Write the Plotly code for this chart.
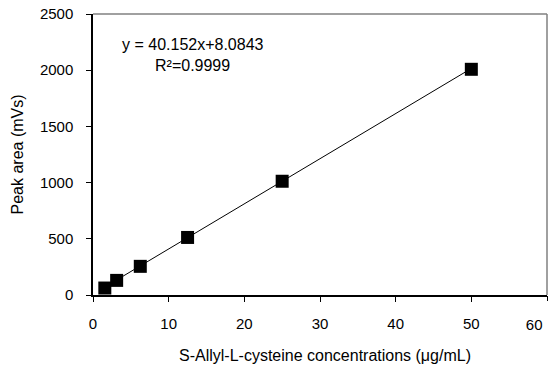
import plotly.graph_objects as go

# Data
conc = [1.5625, 3.125, 6.25, 12.5, 25, 50]
peak_area = [62, 130, 255, 512, 1012, 2008]
slope = 40.152
intercept = 8.0843
eq_text = "y = 40.152x+8.0843"
r2_text = "R²=0.9999"
x_title = "S-Allyl-L-cysteine concentrations (μg/mL)"
y_title = "Peak area (mVs)"
x_ticks = [0, 10, 20, 30, 40, 50, 60]
y_ticks = [0, 500, 1000, 1500, 2000, 2500]
x_range = [0, 60]
y_range = [0, 2500]

line_x = [min(conc), max(conc)]
line_y = [slope * v + intercept for v in line_x]

fig = go.Figure()
# trendline is drawn on the overlaid x2 axis (same range) so that axis renders
fig.add_trace(go.Scatter(x=line_x, y=line_y, mode="lines", xaxis="x2", yaxis="y",
                         line=dict(color="black", width=1), showlegend=False))
fig.add_trace(go.Scatter(x=conc, y=peak_area, mode="markers",
                         marker=dict(symbol="square", size=13, color="black"),
                         showlegend=False))

font = dict(family="Liberation Sans, Arial, sans-serif", color="black")

fig.update_layout(
    width=553, height=369,
    margin=dict(l=93, r=6, t=14, b=74),
    plot_bgcolor="white", paper_bgcolor="white",
    font=dict(**font, size=15),
    xaxis=dict(range=x_range, tickvals=x_ticks[:-1], showgrid=False, zeroline=False,
               showline=True, linecolor="black", linewidth=1.5,
               ticks="outside", ticklen=5, tickcolor="black",
               ticklabelstandoff=9, automargin=False,
               tickfont=dict(size=15)),
    # last tick label sits left of its tick, as in the reference
    xaxis2=dict(range=x_range, overlaying="x", anchor="y", side="bottom",
                tickvals=x_ticks[-1:], showgrid=False, zeroline=False,
                showline=False, ticks="outside", ticklen=5, tickcolor="black",
                ticklabelposition="outside left", ticklabelshift=-4,
                ticklabelstandoff=16, automargin=False,
                tickfont=dict(size=15)),
    yaxis=dict(range=y_range, tickvals=y_ticks, showgrid=False, zeroline=False,
               showline=True, linecolor="black", linewidth=1.5,
               ticks="outside", ticklen=5, tickcolor="black",
               ticklabelstandoff=10, automargin=False,
               tickfont=dict(size=15)),
    shapes=[
        dict(type="line", xref="paper", yref="paper", x0=0, x1=1, y0=1, y1=1,
             line=dict(color="#808080", width=1.5)),
        dict(type="line", xref="paper", yref="paper", x0=1, x1=1, y0=0, y1=1,
             line=dict(color="#808080", width=1.5)),
    ],
    annotations=[
        dict(x=13.15, y=2233, xref="x", yref="y", text=eq_text, showarrow=False,
             font=dict(size=16), xanchor="center", yanchor="middle"),
        dict(x=13.15, y=2046, xref="x", yref="y", text=r2_text, showarrow=False,
             font=dict(size=16), xanchor="center", yanchor="middle"),
        dict(x=0.511, y=0, xref="paper", yref="paper", text=x_title, showarrow=False,
             font=dict(size=16), xanchor="center", yanchor="middle", yshift=-60),
        dict(x=0, y=0.5, xref="paper", yref="paper", text=y_title, showarrow=False,
             font=dict(size=16), xanchor="center", yanchor="middle", xshift=-76,
             textangle=-90),
    ],
)

fig.write_html(
    "out.html",
    config={"displayModeBar": False},
    post_script="document.body.style.margin='0';document.body.style.overflow='hidden';",
)
